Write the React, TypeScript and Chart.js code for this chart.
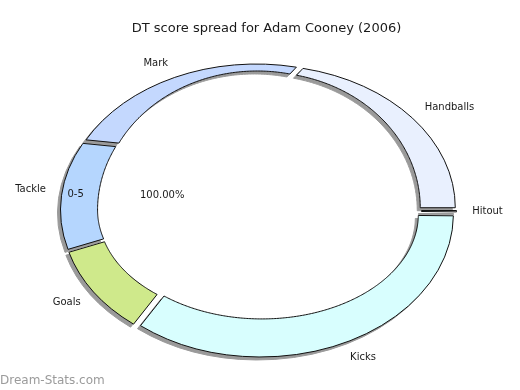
import React, { useEffect, useRef } from 'react';
import { Chart, registerables } from 'chart.js';

Chart.register(...registerables);

const TITLE = 'DT score spread for Adam Cooney (2006)';
const LABELS = ['Hitout', 'Kicks', 'Goals', 'Tackle', 'Mark', 'Handballs'];
const VALUES = [0.15, 35.6, 9.8, 12.2, 20.6, 21.65];
const COLORS = ['#ffffff', '#d8fefe', '#cfe98b', '#b5d6fe', '#c4d8fe', '#e9f0fe'];
const SLICE_NOTE = '0-5';
const SLICE_NOTE_INDEX = 3;
const CENTER_NOTE = '100.00%';
const WATERMARK = 'Dream-Stats.com';

const FONT = "'DejaVu Sans', sans-serif";

function geometry(el: any) {
  const R = el.outerRadius;
  return {
    cx: el.x,
    cy: el.y,
    ao: R * 1.351,
    bo: R,
    cxi: el.x + 1,
    ai: R * 1.098,
    biUp: R * 0.951,
    biDown: R * 0.733,
  };
}

function innerPoint(g: any, t: number) {
  const s = Math.sin(t);
  return [g.cxi + g.ai * Math.cos(t), g.cy + (s > 0 ? g.biDown : g.biUp) * s];
}

function slicePath(ctx: CanvasRenderingContext2D, el: any, dx: number, dy: number) {
  const g = geometry(el);
  const s = el.startAngle;
  const e = el.endAngle;
  const m = (s + e) / 2;
  const d = 5.5;
  const ox = Math.cos(m) * d + dx;
  const oy = Math.sin(m) * d * 0.8 + dy;
  ctx.beginPath();
  ctx.ellipse(g.cx + ox, g.cy + oy, g.ao, g.bo, 0, s, e, false);
  const steps = Math.max(2, Math.ceil((e - s) / 0.01));
  for (let k = 0; k <= steps; k++) {
    const t = e - ((e - s) * k) / steps;
    const [x, y] = innerPoint(g, t);
    ctx.lineTo(x + ox, y + oy);
  }
  ctx.closePath();
}

const ellipseRing = {
  id: 'ellipseRing',
  beforeDatasetsDraw(chart: any) {
    const meta = chart.getDatasetMeta(0);
    const ctx: CanvasRenderingContext2D = chart.ctx;
    ctx.save();
    meta.data.forEach((el: any) => {
      slicePath(ctx, el, -3, 3);
      ctx.fillStyle = '#9a9a9a';
      ctx.fill();
      ctx.strokeStyle = '#9a9a9a';
      ctx.lineWidth = 1;
      ctx.stroke();
    });
    meta.data.forEach((el: any, i: number) => {
      slicePath(ctx, el, 0, 0);
      ctx.fillStyle = COLORS[i];
      ctx.fill();
      ctx.lineWidth = 1;
      ctx.strokeStyle = '#111';
      ctx.stroke();
    });
    ctx.restore();
    return false;
  },
  afterDraw(chart: any) {
    const meta = chart.getDatasetMeta(0);
    const ctx: CanvasRenderingContext2D = chart.ctx;
    ctx.save();
    ctx.font = `13px ${FONT}`;
    ctx.fillStyle = '#1a1a1a';
    ctx.textAlign = 'center';
    ctx.textBaseline = 'middle';
    ctx.fillText(TITLE, 266.5, 29);

    ctx.font = `10px ${FONT}`;
    meta.data.forEach((el: any, i: number) => {
      const g = geometry(el);
      const m = (el.startAngle + el.endAngle) / 2;
      const c = Math.cos(m);
      const s = Math.sin(m);
      const x = g.cx + c * g.ao * 1.11;
      const y = g.cy + s * g.bo * 1.1;
      ctx.textAlign = c > 0.05 ? 'left' : c < -0.05 ? 'right' : 'center';
      const yy = Math.abs(s) < 0.05 ? y : s > 0 ? y + 5 : y - 5;
      ctx.fillText(LABELS[i], x, yy);
    });
    ctx.textAlign = 'center';
    const t = meta.data[SLICE_NOTE_INDEX];
    if (t) {
      const g = geometry(t);
      const m = (t.startAngle + t.endAngle) / 2;
      ctx.fillText(SLICE_NOTE, g.cx + Math.cos(m) * g.ao * 0.955, g.cy + Math.sin(m) * g.bo * 0.88 - 3);
      ctx.fillText(CENTER_NOTE, g.cx - g.ao * 0.5, g.cy - 15);
    }
    ctx.font = `12px ${FONT}`;
    ctx.fillStyle = '#9b9b9b';
    ctx.textAlign = 'left';
    ctx.textBaseline = 'alphabetic';
    ctx.fillText(WATERMARK, 0, 384);
    ctx.restore();
  },
};

export default function App() {
  const ref = useRef<HTMLCanvasElement>(null);
  useEffect(() => {
    document.body.style.margin = '0';
    const canvas = ref.current!;
    const chart = new Chart(canvas, {
      type: 'doughnut',
      data: {
        labels: LABELS,
        datasets: [
          {
            data: VALUES,
            backgroundColor: COLORS,
            borderWidth: 0,
            offset: 0,
          },
        ],
      },
      options: {
        responsive: false,
        animation: false,
        rotation: 90,
        cutout: '80%',
        layout: { padding: { left: 66, right: 69, bottom: 37, top: 68 } },
        plugins: {
          legend: { display: false },
          tooltip: { enabled: false },
          title: { display: false },
        },
      },
      plugins: [ellipseRing],
    });
    return () => chart.destroy();
  }, []);
  return (
    <div style={{ width: 520, height: 390, background: '#fff' }}>
      <canvas ref={ref} width={520} height={390} />
    </div>
  );
}
